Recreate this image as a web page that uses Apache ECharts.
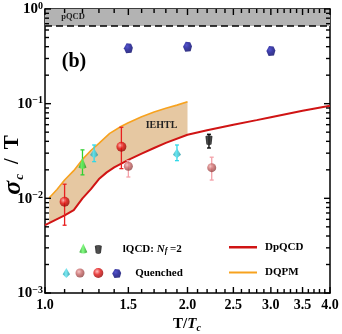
<!DOCTYPE html>
<html><head><meta charset="utf-8">
<script src="https://cdn.jsdelivr.net/npm/echarts@6/dist/echarts.min.js"></script>
<style>html,body{margin:0;padding:0;background:#fff}#c{width:342px;height:334px}</style>
</head><body><div id="c"></div>
<script>
const L = Math.log10;
const F = 'Liberation Serif';

// ---- tick labels / tick positions (original units) ----
const xMajor = [1.0, 1.5, 2.0, 2.5, 3.0, 3.5, 4.0];
const xMinor = [1.1,1.2,1.3,1.4,1.6,1.7,1.8,1.9,2.1,2.2,2.3,2.4,2.6,2.7,2.8,2.9,3.1,3.2,3.3,3.4,3.6,3.7,3.8,3.9];
const yMajor = [0.001, 0.01, 0.1, 1];
const yMinorMantissa = [2,3,4,5,6,7,8,9];

// ---- curves ----
const dpqcdX = [1.0, 1.05, 1.1, 1.15, 1.2, 1.25, 1.3, 1.35, 1.4, 1.5, 1.6, 1.7, 1.8, 2.0, 2.2, 2.5, 2.8, 3.0, 3.5, 4.0];
const dpqcdY = [0.0052, 0.0059, 0.0066, 0.0075, 0.0100, 0.0125, 0.0160, 0.0188, 0.0212, 0.0255, 0.0297, 0.0340, 0.0385, 0.0470, 0.0525, 0.0600, 0.0670, 0.0720, 0.0840, 0.0950];
const dqpmX = [1.02, 1.06, 1.1, 1.15, 1.2, 1.25, 1.3, 1.37, 1.45, 1.5, 1.6, 1.7, 1.8, 1.9, 2.0];
const dqpmY = [0.0101, 0.0124, 0.0156, 0.0196, 0.0258, 0.0320, 0.0380, 0.0485, 0.0578, 0.0630, 0.0728, 0.0815, 0.0895, 0.0965, 0.1050];
const iehtlLowX = [1.02, 1.05, 1.1, 1.15, 1.2, 1.25, 1.3, 1.35, 1.4, 1.5, 1.6, 1.7, 1.8, 2.0];
const iehtlLowY = [0.0055, 0.0059, 0.0066, 0.0075, 0.0100, 0.0125, 0.0160, 0.0188, 0.0212, 0.0255, 0.0297, 0.0340, 0.0385, 0.0470];
const pqcdBand = [0.66, 1.0];

// ---- lattice points ----
const lqcdGreenX = [1.2],  lqcdGreenY = [0.0235], lqcdGreenLo = [0.0177], lqcdGreenHi = [0.0325];
const lqcdBlackX = [2.22], lqcdBlackY = [0.0410], lqcdBlackLo = [0.0340], lqcdBlackHi = [0.0475];
const qCyanX = [1.27, 1.9],  qCyanY = [0.0297, 0.0299], qCyanLo = [0.0244, 0.0250], qCyanHi = [0.0366, 0.0366];
const qPinkX = [1.5, 2.25],  qPinkY = [0.0218, 0.0211], qPinkLo = [0.0168, 0.0156], qPinkHi = [0.0250, 0.0272];
const qRedX = [1.1, 1.45],   qRedY = [0.0092, 0.0350], qRedLo = [0.0052, 0.0206], qRedHi = [0.0141, 0.0563];
const qBlueX = [1.5, 2.0, 3.0], qBlueY = [0.385, 0.400, 0.360];

const yMinor = [];
[0.001, 0.01, 0.1].forEach(d => yMinorMantissa.forEach(m => yMinor.push(m * d)));

const black = '#000';
function xAx(pos, showLabel) {
  return {
    type: 'value', min: 0, max: L(4), position: pos,
    axisLine: {show: true, onZero: false, lineStyle: {color: black, width: 1.5}},
    axisTick: {show: false},
    axisLabel: {show: showLabel, customValues: xMajor.map(L), margin: 5,
      formatter: v => Math.pow(10, v).toFixed(1),
      fontFamily: F, fontWeight: 'bold', fontSize: 14, color: black},
    splitLine: {show: false}
  };
}
function yAx(pos, showLabel) {
  return {
    type: 'value', min: -3, max: 0, position: pos,
    axisLine: {show: true, onZero: false, lineStyle: {color: black, width: 1.5}},
    axisTick: {show: false},
    axisLabel: {show: showLabel, customValues: yMajor.map(L), margin: 2,
      formatter: v => '{n|10}{s|' + (Math.round(v) === 0 ? '0' : '\u2212' + Math.round(-v)) + '}',
      rich: {
        n: {fontFamily: F, fontWeight: 'bold', fontSize: 15, color: black, verticalAlign: 'bottom', lineHeight: 16},
        s: {fontFamily: F, fontWeight: 'bold', fontSize: 10, color: black, verticalAlign: 'top', lineHeight: 10, padding: [0, 0, 6, 0]}
      }},
    splitLine: {show: false}
  };
}

function pts(xs, ys) { return xs.map((x, i) => [L(x), L(ys[i])]); }

function errSeries(name, xs, ys, lo, hi, color) {
  return {
    type: 'custom', name: name + '_err', silent: true, z: 3,
    data: xs.map((x, i) => [L(x), L(ys[i]), L(lo[i]), L(hi[i])]),
    encode: {x: 0, y: 1},
    renderItem: (p, api) => {
      const x = api.value(0);
      const a = api.coord([x, api.value(2)]), b = api.coord([x, api.value(3)]);
      return {type: 'group', children: [
        {type: 'line', shape: {x1: a[0], y1: a[1], x2: b[0], y2: b[1]}, style: {stroke: color, lineWidth: 1.3}},
        {type: 'line', shape: {x1: a[0] - 2, y1: a[1], x2: a[0] + 2, y2: a[1]}, style: {stroke: color, lineWidth: 1.3}},
        {type: 'line', shape: {x1: b[0] - 2, y1: b[1], x2: b[0] + 2, y2: b[1]}, style: {stroke: color, lineWidth: 1.3}}
      ]};
    }
  };
}

// tick marks on all four sides as thin filled rectangles, positioned through the axes' scales
function tickElements(api) {
  const lb = api.coord([0, -3]), rt = api.coord([L(4), 0]);
  const kids = [];
  const w = 1.4;
  const xt = (v, len) => {
    const px = api.coord([L(v), -3])[0];
    kids.push({type: 'rect', shape: {x: px - w / 2, y: lb[1] - len, width: w, height: len}, style: {fill: black}});
    kids.push({type: 'rect', shape: {x: px - w / 2, y: rt[1], width: w, height: len}, style: {fill: black}});
  };
  const yt = (v, len) => {
    const py = api.coord([0, L(v)])[1];
    kids.push({type: 'rect', shape: {x: lb[0], y: py - w / 2, width: len, height: w}, style: {fill: black}});
    kids.push({type: 'rect', shape: {x: rt[0] - len, y: py - w / 2, width: len, height: w}, style: {fill: black}});
  };
  xMajor.forEach(v => xt(v, 6));
  xMinor.forEach(v => xt(v, 4));
  yMajor.forEach(v => yt(v, 6));
  yMinor.forEach(v => yt(v, 4));
  return kids;
}

const sym = {
  cone: 'path://M5,0 L10,11 Q5,14 0,11 Z',
  cyl: 'path://M0,1 C2,-0.3 6,-0.3 8,1 L7,9 C5,10.5 3,10.5 1,9 Z',
  pyr: 'path://M4,0 L8,7 L4,11 L0,7 Z',
  pent: 'path://M3,0 L8,0.5 L10,4.5 L8.5,9.5 L2.5,10 L0,5 Z'
};
function radial(c0, c1, c2) {
  return {type: 'radial', x: 0.38, y: 0.35, r: 0.7, colorStops: [
    {offset: 0, color: c0}, {offset: 0.45, color: c1}, {offset: 1, color: c2}]};
}
function linear(c0, c1, c2) {
  return {type: 'linear', x: 0, y: 0, x2: 1, y2: 0, colorStops: [
    {offset: 0, color: c0}, {offset: 0.45, color: c1}, {offset: 1, color: c2}]};
}
const colGreen = linear('#149614', '#66ff66', '#0d8a0d');
const colBlack = linear('#000', '#2a2a2a', '#000');
const colCyan = linear('#0f9aa8', '#5ee6f2', '#118d9a');
const colPink = radial('#f2b8b8', '#c86868', '#8a3c3c');
const colRed = radial('#ffb0b0', '#e41414', '#8a0000');
const colBlue = radial('#2a2ac0', '#0c0c90', '#000060');

const series = [
  { // pQCD band + dashed line
    type: 'custom', name: 'pQCD', silent: true, z: 1, data: [[0, 0]],
    renderItem: (p, api) => {
      const a = api.coord([L(1), L(pqcdBand[0])]), b = api.coord([L(4), L(pqcdBand[1])]);
      return {type: 'group', children: [
        {type: 'rect', shape: {x: a[0], y: b[1], width: b[0] - a[0], height: a[1] - b[1]}, style: {fill: '#b3b3b3'}},
        {type: 'line', shape: {x1: a[0], y1: a[1], x2: b[0], y2: a[1]}, style: {stroke: black, lineWidth: 1.5, lineDash: [7, 4]}}
      ]};
    }
  },
  { // IEHTL band
    type: 'custom', name: 'IEHTL', silent: true, z: 1, data: [[0, 0]],
    renderItem: (p, api) => {
      const poly = [];
      for (let i = 0; i < dqpmX.length; i++) poly.push(api.coord([L(dqpmX[i]), L(dqpmY[i])]));
      for (let i = iehtlLowX.length - 1; i >= 0; i--) poly.push(api.coord([L(iehtlLowX[i]), L(iehtlLowY[i])]));
      return {type: 'polygon', shape: {points: poly}, style: {fill: '#e6c8a2'}};
    }
  },
  {type: 'line', name: 'DpQCD', data: pts(dpqcdX, dpqcdY), showSymbol: false, z: 2,
   lineStyle: {color: '#d01414', width: 2}, itemStyle: {color: '#d01414'}},
  {type: 'line', name: 'DQPM', data: pts(dqpmX, dqpmY), showSymbol: false, z: 2,
   lineStyle: {color: '#f7a21e', width: 1.6}, itemStyle: {color: '#f7a21e'}},
  errSeries('g', lqcdGreenX, lqcdGreenY, lqcdGreenLo, lqcdGreenHi, '#30d030'),
  errSeries('k', lqcdBlackX, lqcdBlackY, lqcdBlackLo, lqcdBlackHi, '#000'),
  errSeries('c', qCyanX, qCyanY, qCyanLo, qCyanHi, '#30d8e8'),
  errSeries('p', qPinkX, qPinkY, qPinkLo, qPinkHi, '#f4a0a8'),
  errSeries('r', qRedX, qRedY, qRedLo, qRedHi, '#e82020'),
  {type: 'scatter', name: 'lqcdG', data: pts(lqcdGreenX, lqcdGreenY), symbol: sym.cone, symbolSize: [8, 11], itemStyle: {color: colGreen}, z: 4},
  {type: 'scatter', name: 'lqcdK', data: pts(lqcdBlackX, lqcdBlackY), symbol: sym.cyl, symbolSize: [7, 10], itemStyle: {color: colBlack}, z: 4},
  {type: 'scatter', name: 'qC', data: pts(qCyanX, qCyanY), symbol: sym.pyr, symbolSize: [8, 10], itemStyle: {color: colCyan}, z: 4},
  {type: 'scatter', name: 'qP', data: pts(qPinkX, qPinkY), symbol: 'circle', symbolSize: 9, itemStyle: {color: colPink}, z: 4},
  {type: 'scatter', name: 'qR', data: pts(qRedX, qRedY), symbol: 'circle', symbolSize: 10, itemStyle: {color: colRed}, z: 4},
  {type: 'scatter', name: 'qB', data: pts(qBlueX, qBlueY), symbol: sym.pent, symbolSize: [9, 10], itemStyle: {color: colBlue}, z: 4},
  {type: 'custom', name: 'ticks', silent: true, z: 6, data: [[0, 0]],
   renderItem: (p, api) => ({type: 'group', children: tickElements(api)})}
];

const lt = {fontFamily: F, fontWeight: 'bold', fontSize: 11, color: black};
function leg(name, left, cy, w, h, text, rich, icon) {
  const d = icon ? {name: name, icon: icon} : name;
  return {
    data: [d], left: left, top: cy - h / 2, itemWidth: w, itemHeight: h, padding: 0, itemGap: 0,
    selectedMode: false, formatter: () => text,
    textStyle: Object.assign({}, lt, {lineHeight: h, rich: rich || {}})
  };
}
const richL = {
  p: {width: 16},
  t: Object.assign({}, lt),
  i: Object.assign({}, lt, {fontStyle: 'italic'}),
  s: Object.assign({}, lt, {fontStyle: 'italic', fontSize: 8, verticalAlign: 'bottom', padding: [6, 0, 0, 0]})
};
const richQ = {p: {width: 9}, t: Object.assign({}, lt)};
const richD = {p: {width: 3}, t: Object.assign({}, lt)};

const legends = [
  leg('lqcdG', 79.3, 249, 8, 11, ''),
  leg('lqcdK', 94.8, 249, 7, 10, '{p|}{t|lQCD: }{i|N}{s|f}{t| =2}', richL),
  leg('qC', 62.7, 273, 8, 10, ''),
  leg('qP', 75.5, 273, 9, 9, ''),
  leg('qR', 93.3, 273, 10, 10, ''),
  leg('qB', 112.2, 273, 9, 10, '{p|}{t|Quenched}', richQ),
  leg('DpQCD', 229, 243, 28, 2.5, '{p|}{t|DpQCD}', richD, 'rect'),
  leg('DQPM', 229, 268, 28, 2, '{p|}{t|DQPM}', richD, 'rect')
];

const option = {
  animation: false,
  backgroundColor: '#fff',
  grid: {left: 45, right: 12, top: 9, bottom: 41},
  xAxis: [xAx('bottom', true), xAx('top', false)],
  yAxis: [yAx('left', true), yAx('right', false)],
  legend: legends,
  graphic: [
    {type: 'text', x: 73, y: 17, z: 20, style: {text: 'pQCD', font: 'bold 8.5px "Liberation Serif"', fill: '#222', align: 'center', verticalAlign: 'middle'}},
    {type: 'text', x: 74, y: 62, z: 20, style: {text: '(b)', font: 'bold 20px "Liberation Serif"', fill: black, align: 'center', verticalAlign: 'middle'}},
    {type: 'text', x: 161.5, y: 125.5, z: 20, style: {text: 'IEHTL', font: 'bold 10px "Liberation Serif"', fill: '#222', align: 'center', verticalAlign: 'middle'}},
    {type: 'text', x: 187, y: 324, z: 20, style: {
      text: '{a|T/}{b|T}{c|c}', align: 'center', verticalAlign: 'middle',
      rich: {
        a: {fontFamily: F, fontWeight: 'bold', fontSize: 15, fill: black},
        b: {fontFamily: F, fontWeight: 'bold', fontStyle: 'italic', fontSize: 15, fill: black},
        c: {fontFamily: F, fontWeight: 'bold', fontStyle: 'italic', fontSize: 10, fill: black, verticalAlign: 'bottom', padding: [8, 0, 0, 0]}
      }}},
    {type: 'text', x: 13, y: 165, rotation: Math.PI / 2, z: 20, style: {
      text: '{a|\u03c3}{c|c}{d|/}{e|T}', align: 'center', verticalAlign: 'middle',
      rich: {
        a: {fontFamily: F, fontWeight: 'bold', fontStyle: 'italic', fontSize: 26, fill: black},
        c: {fontFamily: F, fontWeight: 'bold', fontStyle: 'italic', fontSize: 13, fill: black, verticalAlign: 'bottom', padding: [11, 0, 0, 1]},
        d: {fontFamily: F, fontWeight: 'bold', fontSize: 20, fill: black, padding: [0, 9, 0, 10]},
        e: {fontFamily: F, fontWeight: 'bold', fontSize: 21, fill: black}
      }}}
  ],
  series: series
};
const chart = echarts.init(document.getElementById('c'), null, {renderer: 'canvas'});
chart.setOption(option);
</script>
</body></html>
